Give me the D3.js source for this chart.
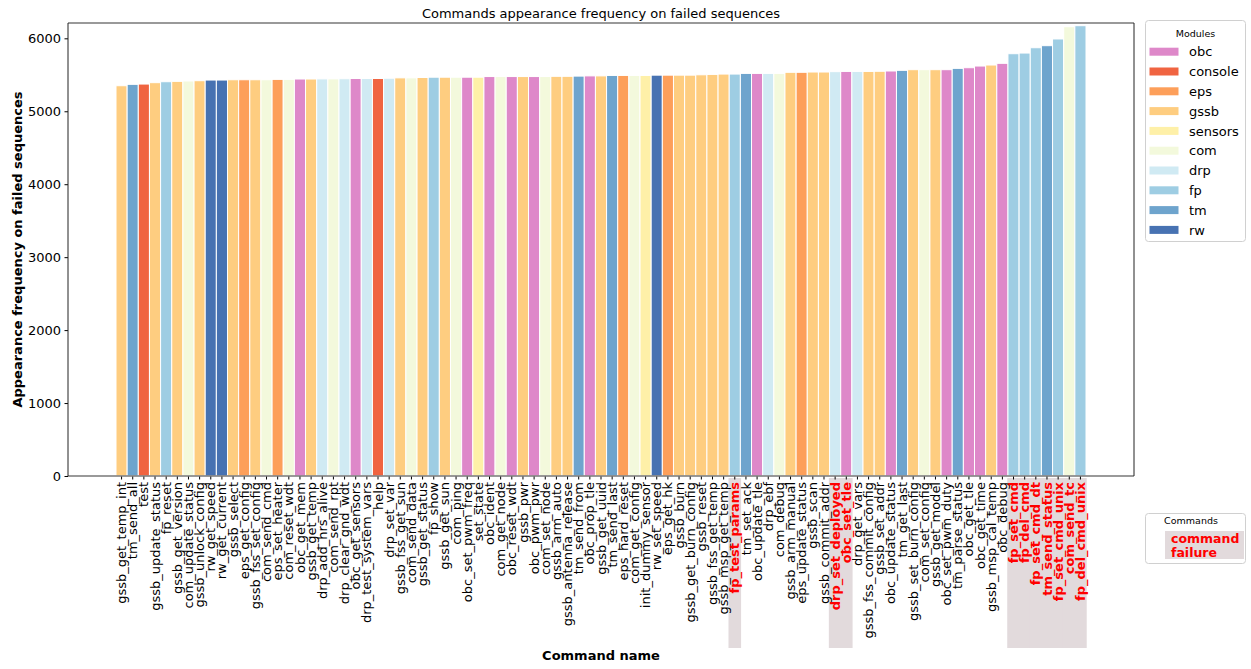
<!DOCTYPE html>
<html>
<head>
<meta charset="utf-8">
<script src="https://cdn.jsdelivr.net/npm/d3@7"></script>
<style>
  html, body { margin: 0; padding: 0; background: #fff; }
  svg { display: block; font-family: "DejaVu Sans", sans-serif; }
</style>
</head>
<body>
<svg id="chart" width="1251" height="669"></svg>
<script>
const commands = [
  "gssb_get_temp_int","tm_send_all","test","gssb_update_status","fp_reset","gssb_get_version",
  "com_update_status","gssb_unlock_config","rw_get_speed","rw_get_current","gssb_select","eps_get_config",
  "gssb_fss_set_config","com_send_cmd","eps_set_heater","com_reset_wdt","obc_get_mem","gssb_get_temp",
  "drp_add_hrs_alive","com_send_rpt","drp_clear_gnd_wdt","obc_get_sensors","drp_test_system_vars","help",
  "drp_set_var","gssb_fss_get_sun","com_send_data","gssb_get_status","fp_show","gssb_get_sun",
  "com_ping","obc_set_pwm_freq","set_state","obc_ident","com_get_node","obc_reset_wdt",
  "gssb_pwr","obc_pwm_pwr","com_set_node","gssb_arm_auto","gssb_antenna_release","tm_send_from",
  "obc_prop_tle","gssb_get_uuid","tm_send_last","eps_hard_reset","com_get_config","init_dummy_sensor",
  "rw_set_speed","eps_get_hk","gssb_burn","gssb_get_burn_config","gssb_reset","gssb_fss_get_temp",
  "gssb_msp_get_temp","fp_test_params","tm_set_ack","obc_update_tle","drp_ebf","com_debug",
  "gssb_arm_manual","eps_update_status","gssb_scan","gssb_commit_addr","drp_set_deployed","obc_set_tle",
  "drp_get_vars","gssb_fss_commit_config","gssb_set_addr","obc_update_status","tm_get_last","gssb_set_burn_config",
  "com_set_config","gssb_get_model","obc_set_pwm_duty","tm_parse_status","obc_get_tle","obc_get_time",
  "gssb_msp_cal_temp","obc_debug","fp_set_cmd","fp_del_cmd","fp_set_cmd_dt","tm_send_status",
  "fp_set_cmd_unix","com_send_tc","fp_del_cmd_unix"
];
const commandModules = [
  "gssb","tm","console","gssb","fp","gssb",
  "com","gssb","rw","rw","gssb","eps",
  "gssb","com","eps","com","obc","gssb",
  "drp","com","drp","obc","drp","console",
  "drp","gssb","com","gssb","fp","gssb",
  "com","obc","sensors","obc","com","obc",
  "gssb","obc","com","gssb","gssb","tm",
  "obc","gssb","tm","eps","com","sensors",
  "rw","eps","gssb","gssb","gssb","gssb",
  "gssb","fp","tm","obc","drp","com",
  "gssb","eps","gssb","gssb","drp","obc",
  "drp","gssb","gssb","obc","tm","gssb",
  "com","gssb","obc","tm","obc","obc",
  "gssb","obc","fp","fp","fp","tm",
  "fp","com","fp"
];
const counts = [
  5350,5369,5373,5392,5405,5410,
  5415,5419,5428,5428,5432,5432,
  5432,5432,5437,5437,5442,5442,
  5444,5444,5446,5449,5449,5449,
  5453,5458,5458,5463,5467,5467,
  5467,5467,5467,5476,5476,5476,
  5476,5476,5476,5479,5479,5482,
  5485,5485,5491,5491,5491,5491,
  5495,5495,5495,5495,5500,5505,
  5510,5510,5519,5519,5519,5519,
  5534,5534,5538,5538,5543,5546,
  5546,5546,5548,5552,5561,5570,
  5570,5570,5570,5588,5597,5620,
  5634,5657,5789,5798,5871,5899,
  5991,6159,6173
];
const failedCommands = ["fp_test_params","drp_set_deployed","obc_set_tle","fp_set_cmd","fp_del_cmd",
  "fp_set_cmd_dt","tm_send_status","fp_set_cmd_unix","com_send_tc","fp_del_cmd_unix"];
const moduleNames = ["obc","console","eps","gssb","sensors","com","drp","fp","tm","rw"];
const moduleColors = ["#de88c9","#f06441","#fd9f5a","#fecd80","#fef0a8","#f3f9dc","#d0eaf3","#9ecde3","#6ea4cd","#4772b2"];
const yTicks = [0,1000,2000,3000,4000,5000,6000];
const yMax = 6210;

const data = commands.map((c, i) => ({ name: c, module: commandModules[i], value: counts[i], failed: failedCommands.includes(c) }));

const svg = d3.select("#chart");
const plot = { left: 68, right: 1134, top: 23, bottom: 476 };
const x = d3.scaleBand().domain(commands).range([116, 1086]).padding(0);
const y = d3.scaleLinear().domain([0, yMax]).range([plot.bottom, plot.top]);
const color = d3.scaleOrdinal().domain(moduleNames).range(moduleColors);
const failBg = "#e2dadc";

// Title
svg.append("text").attr("x", (plot.left + plot.right) / 2).attr("y", 18)
  .attr("text-anchor", "middle").attr("font-size", 13).attr("fill", "#000")
  .text("Commands appearance frequency on failed sequences");

// Failure label backgrounds
svg.append("g").selectAll("rect").data(data.filter(d => d.failed)).join("rect")
  .attr("x", d => x(d.name) + x.bandwidth() / 2 - 6.3)
  .attr("width", 12.6)
  .attr("y", 478).attr("height", 170)
  .attr("fill", failBg);

// Bars
svg.append("g").selectAll("rect").data(data).join("rect")
  .attr("x", d => x(d.name))
  .attr("width", x.bandwidth())
  .attr("y", d => y(d.value))
  .attr("height", d => y(0) - y(d.value))
  .attr("fill", d => color(d.module))
  .attr("stroke", "#fff").attr("stroke-width", 1);

// Y axis
const yAxis = d3.axisLeft(y).tickValues(yTicks).tickSize(3.5).tickPadding(3.5).tickFormat(d3.format("d"));
const gy = svg.append("g").attr("transform", `translate(${plot.left},0)`).call(yAxis);
gy.select(".domain").remove();
gy.selectAll("text").attr("font-size", 13).attr("font-family", "DejaVu Sans").attr("fill", "#000");
gy.selectAll("line").attr("stroke", "#000");

// X axis
const xAxis = d3.axisBottom(x).tickSize(3.5).tickPadding(2);
const gx = svg.append("g").attr("transform", `translate(0,${plot.bottom})`).call(xAxis);
gx.select(".domain").remove();
gx.selectAll("line").attr("stroke", "#000");
gx.selectAll("text")
  .attr("font-size", 13).attr("font-family", "DejaVu Sans")
  .attr("text-anchor", "end")
  .attr("transform", "rotate(-90)")
  .attr("x", -6).attr("y", 0).attr("dy", "0.35em")
  .attr("fill", d => failedCommands.includes(d) ? "#ff0000" : "#000")
  .attr("font-weight", d => failedCommands.includes(d) ? "bold" : "normal");

// Frame
const frame = svg.append("g");
frame.append("line").attr("x1", plot.left).attr("x2", plot.right).attr("y1", plot.top).attr("y2", plot.top).attr("stroke", "#777").attr("stroke-width", 1.5);
frame.append("line").attr("x1", plot.left).attr("x2", plot.right).attr("y1", plot.bottom).attr("y2", plot.bottom).attr("stroke", "#777").attr("stroke-width", 1.5);
frame.append("line").attr("x1", plot.left).attr("x2", plot.left).attr("y1", plot.top).attr("y2", plot.bottom).attr("stroke", "#222").attr("stroke-width", 1);
frame.append("line").attr("x1", plot.right).attr("x2", plot.right).attr("y1", plot.top).attr("y2", plot.bottom).attr("stroke", "#222").attr("stroke-width", 1);

// Axis titles
svg.append("text").attr("transform", `translate(22,${(plot.top + plot.bottom) / 2}) rotate(-90)`)
  .attr("text-anchor", "middle").attr("font-size", 13).attr("font-weight", "bold")
  .text("Appearance frequency on failed sequences");
svg.append("text").attr("x", (plot.left + plot.right) / 2).attr("y", 660)
  .attr("text-anchor", "middle").attr("font-size", 13).attr("font-weight", "bold")
  .text("Command name");

// Modules legend
const lg = svg.append("g");
lg.append("rect").attr("x", 1145.5).attr("y", 20.5).attr("width", 100).attr("height", 221).attr("rx", 3)
  .attr("fill", "#fff").attr("stroke", "#d0d0d0");
lg.append("text").attr("x", 1195.5).attr("y", 36.5).attr("text-anchor", "middle").attr("font-size", 9.5).text("Modules");
const items = lg.selectAll("g.item").data(moduleNames).join("g").attr("class", "item")
  .attr("transform", (d, i) => `translate(0,${51.7 + 19.8 * i})`);
items.append("rect").attr("x", 1149.5).attr("y", -4).attr("width", 29).attr("height", 8).attr("fill", d => color(d));
items.append("text").attr("x", 1189).attr("y", 0).attr("dy", "0.36em").attr("font-size", 13).text(d => d);

// Commands legend
const lg2 = svg.append("g");
lg2.append("rect").attr("x", 1145.5).attr("y", 513.5).attr("width", 100).attr("height", 50).attr("rx", 3)
  .attr("fill", "#fff").attr("stroke", "#d0d0d0");
lg2.append("text").attr("x", 1191).attr("y", 524).attr("text-anchor", "middle").attr("font-size", 9.5).text("Commands");
lg2.append("rect").attr("x", 1165).attr("y", 531).attr("width", 79).attr("height", 28).attr("fill", failBg);
lg2.append("text").attr("x", 1171).attr("y", 543).attr("font-size", 12.5).attr("font-weight", "bold").attr("fill", "#ff0000").text("command");
lg2.append("text").attr("x", 1171).attr("y", 556.5).attr("font-size", 12.5).attr("font-weight", "bold").attr("fill", "#ff0000").text("failure");
</script>
</body>
</html>
